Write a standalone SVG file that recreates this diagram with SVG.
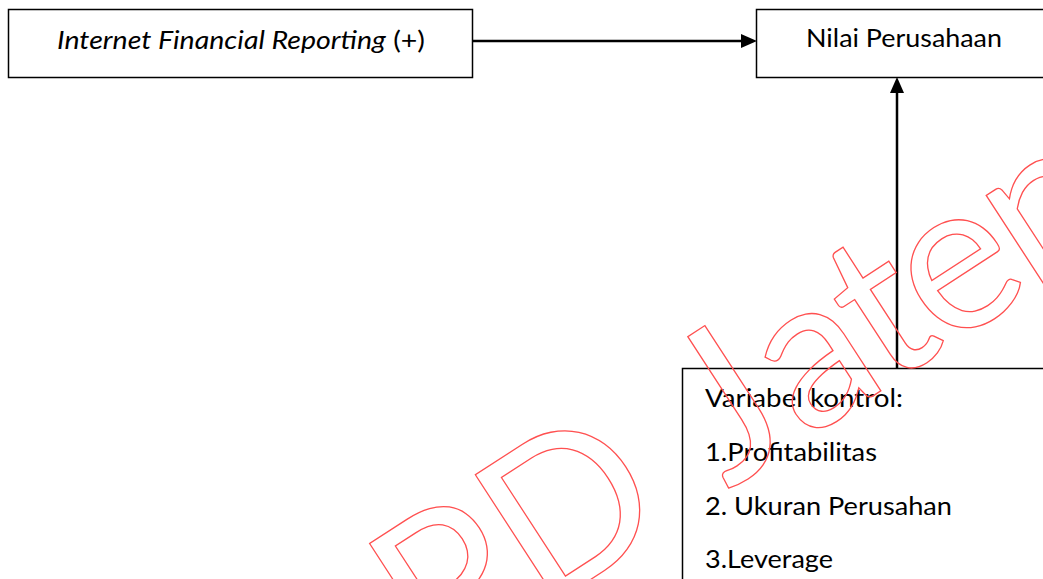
<svg xmlns="http://www.w3.org/2000/svg" width="1043" height="579" viewBox="0 0 1043 579">
<defs>
<style>
.box{fill:#fff;stroke:#000;stroke-width:1.5}
.t{font-family:Lato,"Open Sans",sans-serif;font-size:24.5px;fill:#000}
.wm{font-family:Lato,"Open Sans",sans-serif;font-size:210px;fill:none;stroke:#ff5050;stroke-width:1.3}
.conn{stroke:#000;stroke-width:2.5;fill:none}
</style>
<marker id="ah" viewBox="0 0 16 14" refX="0" refY="7" markerWidth="16" markerHeight="14" markerUnits="userSpaceOnUse" orient="auto">
<path d="M0,0 L16,7 L0,14 z" fill="#000"/>
</marker>
</defs>
<rect width="1043" height="579" fill="#fff"/>
<g id="node-ifr">
<rect class="box" x="8.5" y="9.5" width="464" height="68"/>
<text class="t" x="57" y="49" textLength="368" lengthAdjust="spacingAndGlyphs"><tspan font-style="italic">Internet Financial Reporting</tspan> (+)</text>
</g>
<g id="node-nilai">
<rect class="box" x="756.5" y="9.5" width="300" height="68"/>
<text class="t" x="806" y="47" textLength="196" lengthAdjust="spacingAndGlyphs">Nilai Perusahaan</text>
</g>
<g id="node-kontrol">
<rect class="box" x="682.5" y="368.5" width="400" height="240"/>
<text class="t" x="705" y="407" textLength="198" lengthAdjust="spacingAndGlyphs">Variabel kontrol:</text>
<text class="t" x="705" y="461" textLength="172" lengthAdjust="spacingAndGlyphs">1.Profitabilitas</text>
<text class="t" x="705" y="515" textLength="247" lengthAdjust="spacingAndGlyphs">2. Ukuran Perusahan</text>
<text class="t" x="705" y="568" textLength="128" lengthAdjust="spacingAndGlyphs">3.Leverage</text>
</g>
<g id="connectors">
<line class="conn" x1="473" y1="41" x2="741" y2="41" marker-end="url(#ah)"/>
<line class="conn" x1="897" y1="368" x2="897" y2="93" marker-end="url(#ah)"/>
</g>
<g id="watermark" transform="translate(482,471) rotate(-33)">
<text class="wm" x="-153" y="150">PD</text>
<text class="wm" x="195" y="150" letter-spacing="-6"><tspan>J</tspan><tspan dx="14">ateng</tspan></text>
</g>
</svg>
